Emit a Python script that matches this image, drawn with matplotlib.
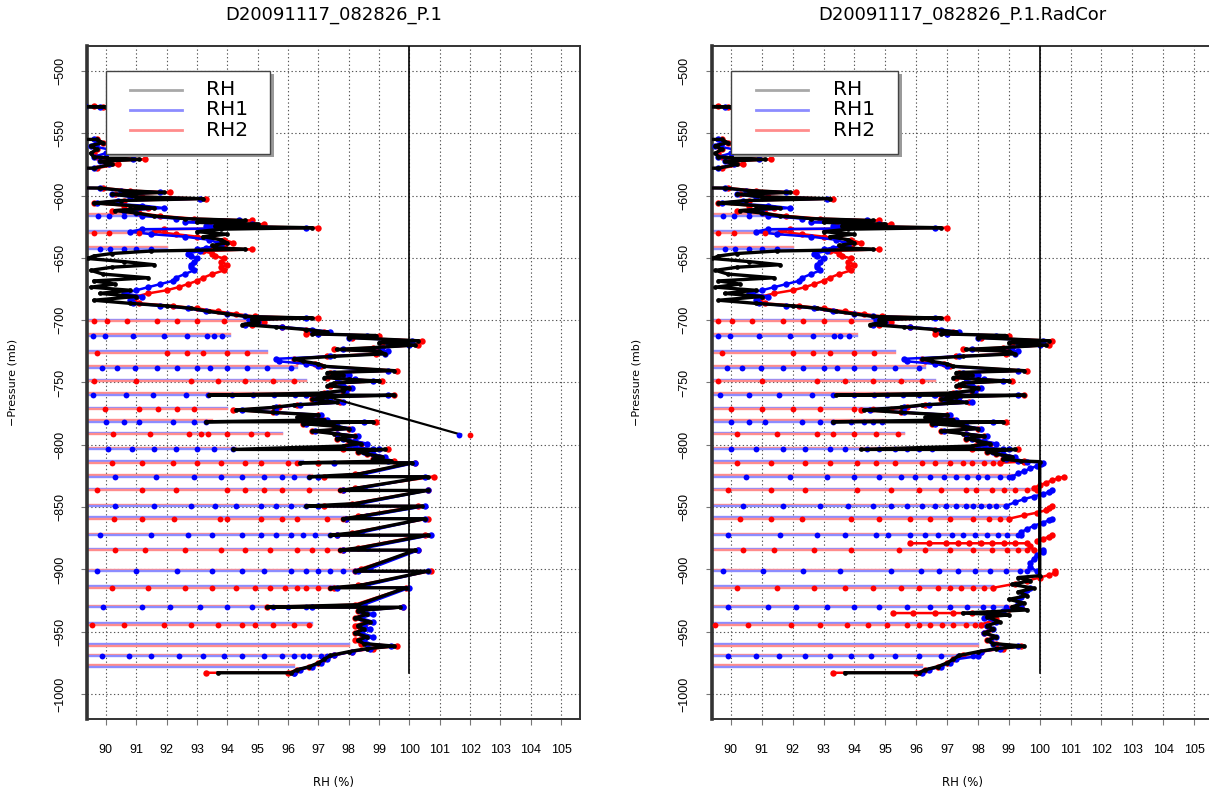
import numpy as np
import matplotlib.pyplot as plt
from matplotlib.patches import Rectangle

plt.rcParams['font.family'] = ['Liberation Sans', 'DejaVu Sans']

nan = np.nan

# ==================== DATA ====================
TITLES = ['D20091117_082826_P.1', 'D20091117_082826_P.1.RadCor']
SERIES = ['RH', 'RH1', 'RH2']
X_TICKS = list(range(90, 106))
Y_TICKS = [-500, -550, -600, -650, -700, -750, -800, -850, -900, -950, -1000]

# upper part of the sounding (same in both panels), pressure in mb
UP_P = [527.0, 528.5, 528.8, 530.0, 553.0, 555.0, 557.5, 560.0, 563.0, 566.0,
        569.0, 571.0, 572.5, 575.0, 578.0, 580.0, 592.0, 594.0, 596.0, 597.5,
        599.0, 601.0, 602.5, 604.0, 606.0, 608.0, 610.0, 612.0, 614.0, 616.4,
        618.5, 620.0, 621.5, 623.0, 624.5, 625.8, 627.0, 629.0, 631.0, 633.0,
        635.5, 638.0, 640.0, 641.8, 643.2, 644.5, 646.5, 648.5, 650.5, 653.0,
        655.5, 657.5, 660.0, 663.0, 666.0, 668.5, 671.0, 673.5, 676.0, 678.5,
        681.0, 684.0, 686.5, 688.5, 690.5, 693.0, 695.0, 697.0, 698.3, 699.5,
        701.5, 703.5, 705.5, 707.5, 709.5, 711.0, 712.3, 714.0, 716.5, 718.0,
        720.0, 722.0, 723.5, 725.0, 727.0, 729.0, 731.0, 733.0, 735.0, 737.0,
        740.5, 742.0, 744.0, 746.0, 747.5, 748.8, 750.5, 752.5, 754.5, 756.5,
        758.5, 760.2, 760.2, 761.5, 763.5, 766.0, 768.0, 770.0, 772.0, 774.0,
        776.0, 778.0, 780.0, 781.5, 781.5, 783.0, 785.0, 787.0, 789.0, 791.0,
        793.0, 795.0, 797.0, 799.0, 801.0, 803.7, 803.7, 805.5, 807.5, 809.5,
        811.5, 813.0]
UP_RH = [80.0, 89.3, 90.0, 80.0, 80.0, 89.7, 89.9, 89.5, 89.7, 89.5,
         89.6, 91.1, 89.8, 90.2, 89.6, 80.0, 80.0, 89.8, 90.6, 91.9,
         90.2, 91.0, 93.2, 90.5, 89.6, 90.8, 91.6, 90.3, 91.0, 91.6,
         92.6, 94.6, 93.0, 95.0, 93.6, 96.8, 93.8, 93.0, 94.0, 93.2,
         93.8, 94.0, 93.5, 93.6, 94.6, 91.5, 90.2, 89.6, 89.4, 90.6,
         91.6, 90.2, 89.5, 89.9, 91.4, 89.6, 90.3, 89.5, 90.8, 89.8,
         91.0, 89.6, 90.8, 92.0, 92.8, 93.4, 94.0, 94.6, 96.8, 94.8,
         95.0, 94.5, 95.6, 96.6, 97.3, 96.8, 98.9, 98.0, 100.3, 99.0,
         100.2, 98.8, 97.6, 99.0, 99.2, 97.5, 96.2, 96.5, 97.0, 97.2,
         99.5, 97.3, 97.8, 97.2, 98.0, 99.0, 97.5, 97.3, 98.0, 97.8,
         97.1, 93.4, 99.5, 97.3, 96.8, 97.6, 96.2, 95.5, 94.3, 95.5,
         97.0, 96.3, 97.2, 93.3, 98.8, 96.5, 97.5, 98.0, 96.8, 97.5,
         98.2, 97.6, 98.0, 98.4, 97.8, 94.2, 99.2, 98.3, 98.6, 99.1,
         98.8, 99.4]
UP_RH1 = [80.0, 89.3, 89.8, 80.0, 80.0, 89.6, 89.7, 89.5, 90.1, 90.0,
          89.6, 90.9, 89.8, 90.1, 89.6, 80.0, 80.0, 89.8, 90.5, 91.8,
          90.2, 90.8, 93.1, 90.4, 89.7, 91.2, 91.9, 90.6, 91.0, 91.2,
          92.3, 94.4, 92.6, 94.8, 93.3, 96.6, 91.2, 90.8, 91.5, 92.6,
          93.4, 93.7, 93.8, 93.3, 93.0, 93.1, 92.7, 92.8, 93.0, 92.9,
          92.8, 92.8, 92.9, 92.6, 92.3, 92.2, 91.8, 91.4, 91.0, 90.6,
          91.2, 90.8, 90.9, 91.8, 92.7, 93.3, 94.0, 94.6, 96.6, 94.7,
          95.0, 94.6, 95.8, 96.8, 97.4, 97.0, 98.6, 98.0, 100.1, 99.3,
          100.0, 99.1, 97.8, 99.3, 99.2, 97.4, 95.6, 95.7, 96.6, 97.0,
          99.3, 97.5, 98.0, 97.6, 98.2, 98.8, 97.7, 97.8, 98.1, 97.9,
          97.3, 96.6, 99.3, 97.4, 96.9, 97.8, 96.4, 95.6, 94.5, 95.6,
          97.1, 96.5, 97.3, 97.2, 98.5, 96.6, 97.6, 98.1, 96.9, 97.6,
          98.3, 97.8, 98.2, 98.6, 98.0, 98.8, 99.0, 98.5, 98.8, 99.2,
          98.9, 99.3]
UP_RH2 = [80.0, 89.6, 89.9, 80.0, 80.0, 89.7, 89.9, 89.6, 89.7, 89.6,
          89.7, 91.3, 89.9, 90.4, 89.7, 80.0, 80.0, 89.9, 90.8, 92.1,
          90.3, 91.2, 93.3, 90.6, 89.6, 90.6, 91.4, 90.2, 91.1, 91.8,
          92.9, 94.8, 93.4, 95.2, 93.8, 97.0, 91.9, 91.6, 92.3, 93.0,
          93.9, 94.2, 93.9, 93.5, 94.8, 93.2, 93.5, 93.6, 93.9, 93.8,
          94.0, 93.8, 93.9, 93.5, 93.2, 93.0, 92.7, 92.4, 92.0, 91.4,
          91.0, 90.9, 91.1, 92.2, 93.0, 93.7, 94.3, 94.9, 97.0, 95.0,
          95.2, 94.8, 95.8, 96.6, 97.2, 96.6, 99.0, 98.1, 100.4, 99.1,
          100.3, 98.8, 97.5, 98.9, 98.9, 97.3, 96.2, 96.3, 96.9, 97.1,
          99.6, 97.4, 97.8, 97.3, 98.0, 99.1, 97.6, 97.4, 98.0, 97.8,
          97.2, 96.8, 99.5, 97.4, 96.8, 97.7, 96.3, 95.7, 94.2, 95.5,
          97.0, 96.4, 97.2, 97.0, 98.9, 96.5, 97.5, 98.0, 96.8, 97.6,
          98.2, 97.6, 98.0, 98.4, 97.9, 97.8, 99.3, 98.3, 98.6, 99.0,
          98.8, 99.5]

# lower part, original processing (left panel)
LOW_P_L = [814.4, 814.4, 823.6, 825.6, 825.6, 834.6, 836.6, 836.6, 847.2, 849.2,
           849.2, 857.3, 859.3, 859.3, 870.5, 872.5, 872.5, 882.5, 884.5, 884.5,
           899.4, 901.4, 901.4, 912.7, 914.7, 914.7, 928.3, 930.3, 930.3, 933.0,
           936.0, 939.0, 942.0, 945.0, 948.0, 951.0, 954.0, 957.0, 959.5, 961.5,
           963.5, 966.0, 969.0, 972.0, 975.0, 978.0, 980.5, 982.9, 982.9]
LOW_RH_L = [96.4, 100.1, 98.3, 96.7, 100.6, 98.3, 97.7, 100.6, 98.2, 96.6,
            100.4, 98.4, 97.8, 100.5, 98.2, 97.4, 100.6, 98.4, 97.7, 100.2,
            98.5, 98.2, 100.6, 98.4, 97.4, 99.9, 98.3, 95.3, 99.7, 98.3,
            98.6, 98.2, 98.7, 98.3, 98.5, 98.2, 98.6, 98.3, 98.5, 99.5,
            98.6, 98.0, 97.4, 97.2, 97.0, 96.7, 96.3, 96.1, 93.7]
LOW_RH1_L = [97.5, 100.2, 98.5, 97.0, 100.5, 98.5, 97.8, 100.6, 98.4, 97.0,
             100.5, 98.6, 97.9, 100.5, 98.4, 97.6, 100.7, 98.6, 97.8, 100.3,
             98.7, 98.3, 100.6, 98.6, 97.6, 100.0, 98.5, 96.8, 99.8, 98.4,
             98.8, 98.4, 98.8, 98.5, 98.7, 98.4, 98.8, 98.5, 98.6, 99.4,
             98.7, 98.1, 97.5, 97.3, 97.1, 96.8, 96.4, 96.2, 96.2]
LOW_RH2_L = [97.0, 100.2, 98.2, 97.2, 100.8, 98.2, 97.8, 100.6, 98.1, 97.2,
             100.3, 98.3, 97.9, 100.6, 98.1, 97.6, 100.5, 98.3, 97.8, 100.3,
             98.4, 98.2, 100.7, 98.3, 97.5, 99.9, 98.2, 95.3, 99.8, 98.3,
             98.5, 98.2, 98.6, 98.2, 98.4, 98.2, 98.5, 98.2, 98.4, 99.6,
             98.8, 98.1, 97.5, 97.2, 97.0, 96.7, 96.3, 96.0, 93.3]

# lower part, radiation corrected (right panel); nan = sensor dropout gap
LOW_P_R = [813.5, 905.0, 906.5, 909.0, 912.0, 915.0, 918.0, 921.0, 924.0, 927.0,
           930.0, 932.5, 935.0, 936.5, 938.0, 942.0, 945.0, 948.0, 951.0, 954.0,
           957.0, 959.5, 961.5, 963.5, 966.0, 969.0, 972.0, 975.0, 978.0, 980.5,
           982.9, 982.9]
LOW_RH_R = [100.0, 100.0, 99.3, 99.7, 99.1, 99.8, 99.3, 99.6, 99.0, 99.5,
            99.1, 99.6, 97.5, 99.0, 98.3, 98.7, 98.3, 98.5, 98.2, 98.6,
            98.3, 98.5, 99.5, 98.6, 98.0, 97.4, 97.2, 97.0, 96.7, 96.3,
            96.1, 93.7]
LOW_P1_R = [813.5, 814.4, 815.5, 817.0, 819.0, 821.0, 823.0, 825.6, nan,
            836.6, 837.8, 839.5, 841.5, 843.5, 846.0, 849.2, nan,
            859.3, 860.5, 862.5, 865.0, 867.5, 870.0, 872.5, nan,
            884.5, 886.0, 888.5, 891.5, 895.0, 898.0, 901.4, nan,
            914.7, 916.5, 919.0, 922.0, 925.0, 928.0, 930.3,
            933.0, 936.0, 939.0, 942.0, 945.0, 948.0, 951.0, 954.0, 957.0, 959.5,
            961.5, 963.5, 966.0, 969.6, 972.0, 975.0, 978.0, 980.5, 982.9]
LOW_RH1_R = [99.6, 100.1, 100.05, 99.9, 99.7, 99.5, 99.3, 99.1, nan,
             100.4, 100.3, 100.1, 99.8, 99.5, 99.2, 98.9, nan,
             100.4, 100.3, 100.1, 99.8, 99.6, 99.4, 99.4, nan,
             100.1, 100.1, 99.9, 99.8, 99.7, 99.7, 99.9, nan,
             99.7, 99.6, 99.5, 99.4, 99.3, 99.3, 99.4,
             98.8, 98.4, 98.2, 98.6, 98.3, 98.5, 98.2, 98.6, 98.4, 98.5,
             99.3, 98.7, 98.1, 98.0, 97.3, 97.1, 96.8, 96.4, 96.2]
LOW_P2_R = [813.5, 814.4, nan,
            825.6, 826.8, 828.5, 830.5, 832.5, 834.5, 836.6, nan,
            849.2, 850.5, 852.5, 854.5, 856.5, 859.3, nan,
            872.5, 873.8, 875.5, 877.5, nan,
            879.0, 879.0, 879.0, 879.0, 879.0, 879.0, 879.0, 879.0, 879.0, 879.0,
            881.0, 884.5, nan,
            901.4, 902.5, 904.5, 906.5, 909.0, 911.5, 914.7, nan,
            930.3, 932.0, nan,
            935.0, 935.0, 935.0, 935.0, 935.0, 935.0, 937.0, 940.0, 944.2, 948.0,
            951.0, 954.0, 957.0, 959.5, 961.5, 963.5, 966.0, 969.0, 972.0, 975.0,
            978.0, 980.5, 982.9, 982.9]
LOW_RH2_R = [99.5, 98.7, nan,
             100.8, 100.6, 100.4, 100.2, 100.0, 99.8, 99.9, nan,
             100.4, 100.3, 100.2, 99.9, 99.5, 99.0, nan,
             100.4, 100.3, 100.1, 99.9, nan,
             95.8, 96.4, 96.95, 97.35, 97.7, 98.1, 98.45, 98.85, 99.2, 99.6,
             99.7, 99.8, nan,
             100.5, 100.5, 100.3, 100.0, 99.6, 99.2, 98.5, nan,
             99.4, 99.0, nan,
             95.25, 95.9, 96.6, 97.2, 97.8, 98.3, 98.3, 98.6, 98.1, 98.4,
             98.2, 98.5, 98.3, 98.6, 99.4, 98.8, 98.1, 97.5, 97.2, 97.0,
             96.7, 96.3, 96.0, 93.3]

# single bad record of the original processing (left panel only)
OUTLIER_P = [761.5, 791.8]
OUTLIER_RH = [97.3, 101.7]
OUTLIER_RH1 = 101.65
OUTLIER_RH2 = 102.0

# sensor dropouts: level, sensor, recovery points, RH where the record rejoins
UP_SPIKE_P = [616.4, 629.8, 642.7, 701.0, 712.5, 726.0, 738.0, 748.9]
UP_SPIKE_SENSOR = ['RH1', 'RH2', 'RH1', 'RH2', 'RH1', 'RH2', 'RH1', 'RH2']
UP_SPIKE_DOTS = [
    [89.75, 90.1, 90.6],
    [89.6, 90.1, 91.1],
    [89.8, 90.15, 90.6, 91.0, 91.5],
    [89.6, 90.03, 90.69, 91.68, 92.34, 93.0, 93.88],
    [89.59, 89.97, 90.91, 91.9, 92.67, 93.33, 93.55, 93.82],
    [89.7, 92.0, 92.67, 93.2, 94.0, 94.65],
    [89.87, 90.36, 90.97, 91.68, 92.34, 93.0, 93.44, 94.0, 94.65, 95.3, 96.1],
    [89.6, 91.0, 92.8, 93.7, 94.6, 95.5, 96.2],
]
UP_SPIKE_END = [91.2, 91.6, 92.0, 94.6, 94.1, 95.3, 96.3, 96.6]

LOW_SPIKE_P = [760.1, 771.6, 781.5, 791.6, 803.7, 814.4, 825.6, 836.6, 849.2, 859.3,
               872.5, 884.5, 901.4, 914.7, 930.3, 944.2, 961.1, 969.6, 978.1]
LOW_SPIKE_SENSOR = ['RH1', 'RH2', 'RH1', 'RH2', 'RH1', 'RH2', 'RH1', 'RH2', 'RH1', 'RH2',
                    'RH1', 'RH2', 'RH1', 'RH2', 'RH1', 'RH2', 'RH2', 'RH1', 'RH1']
LOW_SPIKE_DOTS_L = [
    [89.57, 90.65, 91.56, 92.64, 93.37, 94.17, 94.86, 95.55, 96.23],
    [89.97, 91.1, 91.73, 92.35, 92.92],
    [90.0, 90.6, 91.1, 92.2, 92.9, 93.3],
    [90.25, 91.44, 92.75, 93.15, 93.37, 94.0, 94.79, 95.3],
    [90.08, 90.85, 91.6, 92.3, 93.0, 93.55, 94.2],
    [90.2, 91.2, 92.2, 93.0, 93.8, 94.6, 95.1, 96.0, 96.3],
    [90.3, 91.65, 92.9, 93.8, 94.5, 95.2, 95.8, 96.2, 96.7],
    [89.7, 91.2, 92.3, 94.0, 94.6, 95.2, 95.8, 96.7, 97.7],
    [90.3, 91.6, 92.8, 93.6, 94.3, 95.1, 95.6, 96.1, 96.6],
    [90.26, 91.2, 92.25, 93.75, 94.0, 95.1, 95.8, 96.3, 97.3, 97.8],
    [89.8, 91.5, 92.7, 93.5, 94.5, 95.1, 95.6, 96.1, 96.5, 96.9, 97.4],
    [90.3, 91.3, 92.6, 93.8, 94.6, 95.4, 96.3, 96.8, 97.3, 97.7],
    [89.7, 91.0, 92.35, 93.5, 94.5, 95.2, 96.1, 96.6, 97.0, 97.4, 97.8, 98.2],
    [90.2, 91.4, 92.6, 93.5, 94.3, 94.9, 95.4, 95.9, 96.3, 96.6, 97.0, 97.4],
    [89.9, 91.2, 92.1, 93.1, 94.0, 94.8, 95.5, 96.0, 96.6],
    [89.55, 90.6, 91.9, 92.8, 93.7, 94.5, 94.9, 95.5, 96.2, 96.7],
    [],
    [89.86, 90.75, 91.5, 92.4, 93.2, 93.9, 94.5, 95.2, 95.8, 96.2, 96.5, 96.7, 97.1, 97.3],
    [],
]
LOW_SPIKE_END_L = [96.6, 94.0, 93.5, 95.8, 94.3, 96.5, 96.8, 97.8, 96.7, 97.9,
                   97.5, 97.8, 98.2, 97.5, 96.7, 96.8, 98.0, 97.4, 96.2]
LOW_SPIKE_DOTS_R = [
    [89.66, 90.6, 91.55, 92.62, 93.31, 94.0, 94.63, 95.07, 95.58, 96.08, 96.58, 97.08],
    [90.0, 91.0, 92.0, 92.9, 94.0, 94.6, 95.2],
    [90.0, 90.6, 91.1, 92.3, 92.9, 93.3, 93.9, 94.3, 94.6, 94.9],
    [90.2, 91.5, 92.8, 93.3, 94.0, 94.7, 95.4],
    [90.0, 90.8, 91.7, 92.4, 93.2, 93.7, 94.4, 94.8, 95.3, 95.7, 96.1, 96.5],
    [90.2, 91.3, 92.4, 93.2, 94.1, 94.7, 95.3, 96.2, 96.6, 97.1, 97.5, 97.8, 98.2, 98.5],
    [90.5, 91.9, 93.1, 94.0, 94.8, 95.5, 95.95, 96.45, 96.9, 97.3, 97.65, 98.0, 98.3, 98.7, 99.0],
    [89.9, 91.3, 92.4, 94.1, 95.2, 96.1, 96.8, 97.6, 97.95, 98.45, 98.85, 99.2, 99.6],
    [90.4, 91.7, 92.9, 93.8, 94.6, 95.2, 95.7, 96.2, 96.6, 96.95, 97.3, 97.6, 97.85, 98.1, 98.35, 98.6],
    [90.3, 91.3, 92.3, 93.9, 94.8, 95.8, 96.45, 97.1, 97.85, 98.35, 98.7],
    [89.9, 91.6, 92.8, 93.7, 94.7, 95.1, 95.8, 96.3, 96.7, 97.15, 97.5, 97.9, 98.3, 98.65, 98.95, 99.3],
    [90.4, 91.4, 92.7, 93.9, 95.45, 96.3, 97.1, 97.85, 98.45, 98.95, 99.3, 99.6],
    [89.75, 91.05, 92.35, 93.55, 95.2, 96.15, 96.75, 97.35, 97.9, 98.4, 98.9, 99.35, 99.6],
    [90.2, 91.5, 92.7, 93.7, 94.6, 95.5, 96.1, 96.7, 97.1, 97.45, 97.85, 98.2],
    [89.9, 91.2, 92.1, 93.1, 94.0, 94.8, 95.7, 96.45, 97.1, 97.65, 98.15, 98.5, 98.9, 99.2],
    [89.5, 90.55, 91.95, 92.9, 93.75, 94.45, 95.07, 95.7, 96.1, 96.45, 96.85, 97.2, 97.6, 97.9],
    [],
    [89.9, 90.8, 91.55, 92.4, 93.2, 93.9, 94.55, 95.3, 96.1, 96.8, 97.35, 97.85],
    [],
]
LOW_SPIKE_END_R = [97.4, 95.5, 95.0, 95.6, 97.0, 98.7, 99.2, 100.0, 98.9, 99.0,
                   99.4, 99.8, 99.9, 98.5, 99.4, 98.1, 98.0, 98.0, 96.2]

COLORS = {'RH': 'black', 'RH1': 'blue', 'RH2': 'red'}
FAINT = {'RH': '#a8a8a8', 'RH1': '#8c8cff', 'RH2': '#ff8c8c'}
DROP_RH = 80.0
WIDE_FONT = ['DejaVu Sans']


def draw_spikes(ax, levels, sensors, dots_list, ends):
    """Dropout lines: faint line from far left, recovery dots on top."""
    for p, s, dots, end in zip(levels, sensors, dots_list, ends):
        other = 'RH2' if s == 'RH1' else 'RH1'
        ax.plot([DROP_RH, end], [-(p - 1.3), -(p - 1.3)], color=FAINT[other],
                lw=1.7, zorder=2)
        xs = [DROP_RH] + dots + [end]
        ax.plot(xs, [-p] * len(xs), color=FAINT[s], lw=1.7, zorder=2)
        if dots:
            ax.plot(dots, [-p] * len(dots), 'o', color=COLORS[s], ms=4.2,
                    mec='none', zorder=4)


def draw_profile(ax, p, rh, name, z):
    y = -np.asarray(p, dtype=float)
    if name == 'RH':
        ax.plot(rh, y, color='black', lw=2.4, marker='o', ms=3.4, mec='none',
                zorder=z)
    else:
        ax.plot(rh, y, color=COLORS[name], lw=1.8, marker='o', ms=4.6,
                mec='none', zorder=z)


def draw_legend(ax):
    x0, y0, w, h = 90.0, -500.0, 5.42, 66.5
    ax.add_patch(Rectangle((x0 + 0.11, y0 - h - 2.6), w, h, facecolor='#9a9a9a',
                           edgecolor='none', zorder=8))
    ax.add_patch(Rectangle((x0, y0 - h), w, h, facecolor='white',
                           edgecolor='#444444', lw=1.0, zorder=9))
    for i, name in enumerate(SERIES):
        yy = -515.3 - 16.05 * i
        ax.plot([90.8, 92.5], [yy, yy], color=FAINT[name], lw=2.0, zorder=10)
        ax.text(93.3, yy, name, fontsize=14.5, family=WIDE_FONT, ha='left',
                va='center', zorder=10)


def style_axes(ax, title):
    ax.set_xlim(89.38, 105.62)
    ax.set_ylim(-1020, -480)
    ax.set_xticks(X_TICKS)
    ax.set_yticks(Y_TICKS)
    ax.set_yticklabels([f'\u2212{abs(v)}' for v in Y_TICKS])
    ax.grid(True, linestyle=(0, (1.2, 2.2)), color='#555555', lw=0.8, zorder=1)
    ax.tick_params(axis='both', direction='out', length=4, width=0.8,
                   color='#777777', labelsize=9)
    ax.tick_params(axis='x', pad=14)
    ax.tick_params(axis='y', pad=11)
    for lab in ax.get_yticklabels():
        lab.set_rotation(90)
        lab.set_va('center')
    for side, sp in ax.spines.items():
        sp.set_color('#333333')
        sp.set_linewidth(1.4)
    ax.spines['left'].set_linewidth(2.6)
    ax.set_xlabel('RH (%)', fontsize=8.5, family=WIDE_FONT)
    ax.xaxis.set_label_coords(0.5, -0.094)
    ax.xaxis.label.set_va('center')
    ax.set_ylabel('\u2212Pressure (mb)', fontsize=8, family=WIDE_FONT)
    ax.yaxis.set_label_coords(-0.14, 0.5)
    ax.text(0.5, 1.046, title, transform=ax.transAxes, ha='center',
            va='center', fontsize=13, family=WIDE_FONT)
    # 100 % reference line
    ax.plot([100, 100], [-470, -983], color='black', lw=1.2, zorder=6)


fig = plt.figure(figsize=(12.09, 7.94), dpi=100)
ax_l = fig.add_axes([87 / 1209, 75 / 794, 493 / 1209, 673 / 794])
ax_r = fig.add_axes([711.7 / 1209, 75 / 794, 501.6 / 1209, 673 / 794])

# ---- left panel ----
draw_spikes(ax_l, UP_SPIKE_P, UP_SPIKE_SENSOR, UP_SPIKE_DOTS, UP_SPIKE_END)
draw_spikes(ax_l, LOW_SPIKE_P, LOW_SPIKE_SENSOR, LOW_SPIKE_DOTS_L, LOW_SPIKE_END_L)
draw_profile(ax_l, UP_P + LOW_P_L, UP_RH2 + LOW_RH2_L, 'RH2', 3)
draw_profile(ax_l, UP_P + LOW_P_L, UP_RH1 + LOW_RH1_L, 'RH1', 3.5)
ax_l.plot(OUTLIER_RH, [-v for v in OUTLIER_P], color='black', lw=1.6, zorder=5)
ax_l.plot([OUTLIER_RH1], [-OUTLIER_P[1]], 'o', color='blue', ms=4.2, mec='none', zorder=5)
ax_l.plot([OUTLIER_RH2], [-OUTLIER_P[1]], 'o', color='red', ms=4.2, mec='none', zorder=5)
draw_profile(ax_l, UP_P + LOW_P_L, UP_RH + LOW_RH_L, 'RH', 5)
style_axes(ax_l, TITLES[0])
draw_legend(ax_l)

# ---- right panel ----
draw_spikes(ax_r, UP_SPIKE_P, UP_SPIKE_SENSOR, UP_SPIKE_DOTS, UP_SPIKE_END)
draw_spikes(ax_r, LOW_SPIKE_P, LOW_SPIKE_SENSOR, LOW_SPIKE_DOTS_R, LOW_SPIKE_END_R)
draw_profile(ax_r, UP_P + LOW_P2_R, UP_RH2 + LOW_RH2_R, 'RH2', 3)
draw_profile(ax_r, UP_P + LOW_P1_R, UP_RH1 + LOW_RH1_R, 'RH1', 3.5)
draw_profile(ax_r, UP_P + LOW_P_R, UP_RH + LOW_RH_R, 'RH', 5)
style_axes(ax_r, TITLES[1])
draw_legend(ax_r)

fig.savefig('out.png', dpi=100)
